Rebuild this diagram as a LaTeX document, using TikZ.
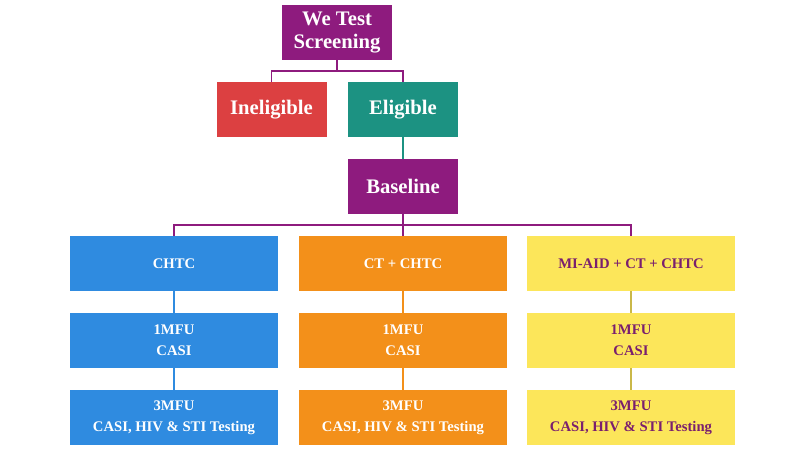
\documentclass[tikz,border=0pt]{standalone}
\usepackage{fontspec}
\setmainfont{Liberation Serif}
\definecolor{cpur}{HTML}{8E1B7E}
\definecolor{cred}{HTML}{DC4041}
\definecolor{cteal}{HTML}{1C9282}
\definecolor{cblue}{HTML}{2F8BE0}
\definecolor{corg}{HTML}{F3901A}
\definecolor{cyel}{HTML}{FCE65A}
\definecolor{cytx}{HTML}{7A1F6E}
\begin{document}
\begin{tikzpicture}[x=0.75pt,y=-0.75pt,
 bx/.style={rectangle,inner sep=0pt,font=\bfseries,align=center,text=white},
 big/.style={bx,minimum width=82.5pt,minimum height=41.25pt,font=\bfseries\fontsize{15.5}{17}\selectfont},
 row/.style={bx,minimum width=156pt,minimum height=41.25pt,font=\bfseries\fontsize{11}{16}\selectfont},
 ln/.style={line width=1.3pt}]
\useasboundingbox (0,0) rectangle (800,453);
\node[big,fill=cpur] (ws) at (337,32.5) {We Test\\Screening};
\node[big,fill=cred] (in) at (271.5,109.5) {Ineligible};
\node[big,fill=cteal] (el) at (403,109.5) {Eligible};
\node[big,fill=cpur] (ba) at (403,186.5) {Baseline};
\node[row,fill=cblue] (a1) at (174,263.5) {CHTC};
\node[row,fill=corg] (b1) at (403,263.5) {CT + CHTC};
\node[row,fill=cyel,text=cytx] (c1) at (631,263.5) {MI-AID + CT + CHTC};
\node[row,fill=cblue] (a2) at (174,340.5) {1MFU\\CASI};
\node[row,fill=corg] (b2) at (403,340.5) {1MFU\\CASI};
\node[row,fill=cyel,text=cytx] (c2) at (631,340.5) {1MFU\\CASI};
\node[row,fill=cblue] (a3) at (174,417.5) {3MFU\\CASI, HIV \& STI Testing};
\node[row,fill=corg] (b3) at (403,417.5) {3MFU\\CASI, HIV \& STI Testing};
\node[row,fill=cyel,text=cytx] (c3) at (631,417.5) {3MFU\\CASI, HIV \& STI Testing};
\draw[ln,cpur] (ws.south) -- ++(0,11) -| (in.north);
\draw[ln,cpur] (ws.south) -- ++(0,11) -| (el.north);
\draw[ln,cteal] (el.south) -- (ba.north);
\draw[ln,cpur] (ba.south) -- ++(0,11) -| (a1.north);
\draw[ln,cpur] (ba.south) -- ++(0,11) -| (c1.north);
\draw[ln,cpur] (ba.south) -- (b1.north);
\draw[ln,cblue] (a1) -- (a2); \draw[ln,cblue] (a2) -- (a3);
\draw[ln,corg] (b1) -- (b2); \draw[ln,corg] (b2) -- (b3);
\draw[ln,cyel!80!black] (c1) -- (c2); \draw[ln,cyel!80!black] (c2) -- (c3);
\end{tikzpicture}
\end{document}
